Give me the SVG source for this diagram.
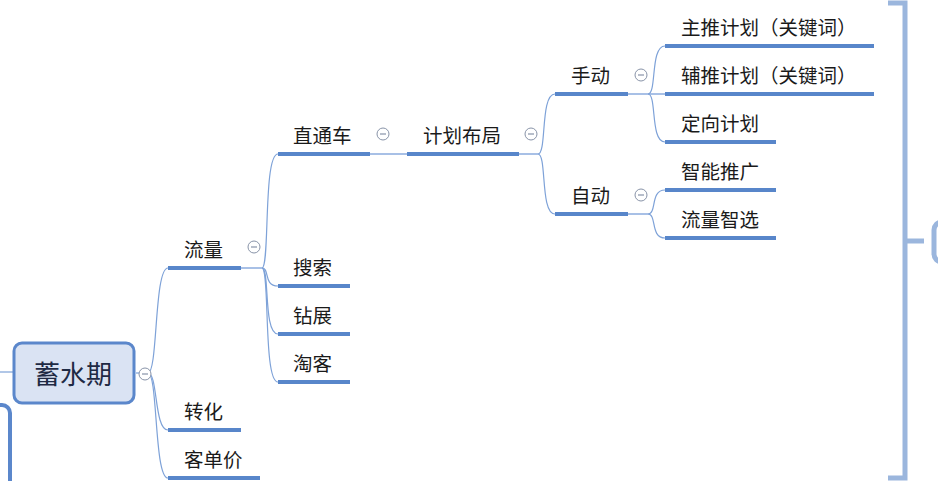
<svg xmlns="http://www.w3.org/2000/svg" width="938" height="481" viewBox="0 0 938 481">
<style>
.t{font-family:"Noto Sans CJK SC","Microsoft YaHei",sans-serif;font-size:19.5px;fill:#1a1a1a}
.root{font-family:"Noto Sans CJK SC","Microsoft YaHei",sans-serif;font-size:26px;fill:#1f2a44}
.ul{stroke:#5886ca;stroke-width:4;fill:none}
.c{stroke:#7ea2d8;stroke-width:1.2;fill:none}
.cs{stroke:#a8c0e6;stroke-width:2;fill:none}
.col{fill:#fff;stroke:#8893a8;stroke-width:1}
.colm{stroke:#8893a8;stroke-width:1.2}
.br{stroke:#9bb6dd;stroke-width:5;fill:none}
</style>
<rect width="938" height="481" fill="#fff"/>
<g id="bracket">
<path class="br" d="M888 3 H905 V478 H888"/>
<path class="br" d="M905 241 H924"/>
<rect x="934" y="222" width="30" height="40" rx="8" class="br" stroke-width="4"/>
</g>
<g id="leftbox">
<rect x="-20" y="405" width="30" height="100" rx="8" fill="none" stroke="#5b87cb" stroke-width="4"/>
</g>
<g id="connectors">
<path class="c" d="M0 372 H14"/>
<path class="c" d="M136 373 H148"/>
<path class="c" d="M148 373 C158 373 154 268 168 268"/>
<path class="c" d="M148 373 C158 373 154 430 168 430"/>
<path class="c" d="M148 373 C158 373 154 478 168 478"/>
<path class="cs" d="M241 268 H262"/>
<path class="c" d="M262 268 C270 268 263 154 278 154"/>
<path class="c" d="M262 268 C270 268 263 286 278 286"/>
<path class="c" d="M262 268 C270 268 263 334 278 334"/>
<path class="c" d="M262 268 C270 268 263 382 278 382"/>
<path class="cs" d="M370 154 H407"/>
<path class="cs" d="M519 154 H538"/>
<path class="c" d="M538 154 C547 154 540 94 555 94"/>
<path class="c" d="M538 154 C547 154 540 214 555 214"/>
<path class="cs" d="M628 94 H665"/>
<path class="c" d="M648 94 C657 94 650 46 665 46"/>
<path class="c" d="M648 94 C657 94 650 142 665 142"/>
<path class="cs" d="M628 214 H648"/>
<path class="c" d="M648 214 C657 214 650 190 665 190"/>
<path class="c" d="M648 214 C657 214 650 238 665 238"/>
</g>
<g id="n-root">
<rect x="14" y="343" width="120" height="60" rx="8" fill="#dae3f3" stroke="#5b87cb" stroke-width="3"/>
<text class="root" x="73" y="384" text-anchor="middle">蓄水期</text>
<circle class="col" cx="145" cy="374" r="6"/><path class="colm" d="M142 374 H148"/>
</g>
<g id="n-liuliang">
<text class="t" x="184" y="257">流量</text>
<path class="ul" d="M168 268 H241"/>
<circle class="col" cx="254" cy="247" r="6"/><path class="colm" d="M251 247 H257"/>
</g>
<g id="n-zhitongche">
<text class="t" x="293" y="143">直通车</text>
<path class="ul" d="M278 154 H370"/>
<circle class="col" cx="383" cy="134" r="6"/><path class="colm" d="M380 134 H386"/>
</g>
<g id="n-jihuabuju">
<text class="t" x="423" y="143">计划布局</text>
<path class="ul" d="M407 154 H519"/>
<circle class="col" cx="531" cy="134" r="6"/><path class="colm" d="M528 134 H534"/>
</g>
<g id="n-shoudong">
<text class="t" x="571" y="83">手动</text>
<path class="ul" d="M555 94 H628"/>
<circle class="col" cx="641" cy="75" r="6"/><path class="colm" d="M638 75 H644"/>
</g>
<g id="n-zidong">
<text class="t" x="571" y="203">自动</text>
<path class="ul" d="M555 214 H628"/>
<circle class="col" cx="641" cy="195" r="6"/><path class="colm" d="M638 195 H644"/>
</g>
<g id="n-zhutui">
<text class="t" x="681" y="35">主推计划（关键词）</text>
<path class="ul" d="M665 46 H874"/>
</g>
<g id="n-futui">
<text class="t" x="681" y="83">辅推计划（关键词）</text>
<path class="ul" d="M665 94 H874"/>
</g>
<g id="n-dingxiang">
<text class="t" x="681" y="131">定向计划</text>
<path class="ul" d="M665 142 H776"/>
</g>
<g id="n-zhineng">
<text class="t" x="681" y="179">智能推广</text>
<path class="ul" d="M665 190 H776"/>
</g>
<g id="n-liuliangzhixuan">
<text class="t" x="681" y="227">流量智选</text>
<path class="ul" d="M665 238 H776"/>
</g>
<g id="n-sousuo">
<text class="t" x="293" y="275">搜索</text>
<path class="ul" d="M278 286 H350"/>
</g>
<g id="n-zuanzhan">
<text class="t" x="293" y="323">钻展</text>
<path class="ul" d="M278 334 H350"/>
</g>
<g id="n-taoke">
<text class="t" x="293" y="371">淘客</text>
<path class="ul" d="M278 382 H350"/>
</g>
<g id="n-zhuanhua">
<text class="t" x="184" y="419">转化</text>
<path class="ul" d="M168 430 H241"/>
</g>
<g id="n-kedanjia">
<text class="t" x="184" y="467">客单价</text>
<path class="ul" d="M168 478 H260"/>
</g>
</svg>
